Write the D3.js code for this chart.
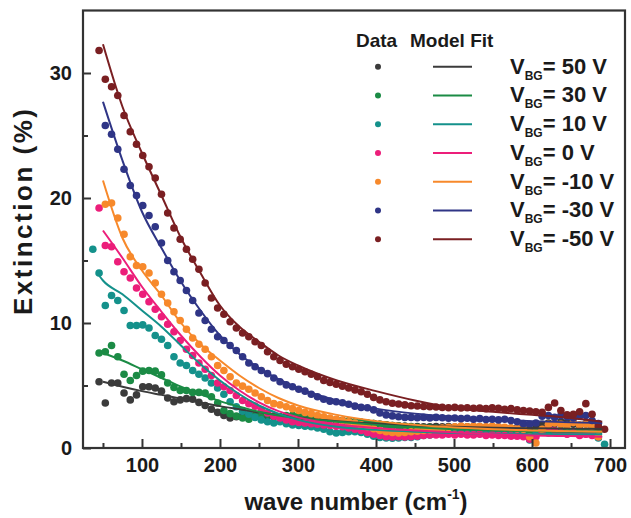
<!DOCTYPE html>
<html>
<head>
<meta charset="utf-8">
<script src="https://cdn.jsdelivr.net/npm/d3@7/dist/d3.min.js"></script>
<style>
  html, body { margin: 0; padding: 0; background: #fff; }
  svg { display: block; }
  text { font-family: "Liberation Sans", Arial, Helvetica, sans-serif; font-weight: bold; fill: #1a1a1a; }
</style>
</head>
<body>
<svg id="chart" width="631" height="518"></svg>
<script>
// ---------------- DATA ----------------
const voltages = [50, 30, 10, 0, -10, -30, -50];
const seriesColors = ["#3b3b3b", "#1b8b45", "#14918b", "#ec1e7a", "#f7892b", "#2f3586", "#7a1f22"];

const wavenumbers = [
  37, 45, 53, 61, 69, 77, 85, 93, 101, 109,
  117, 125, 133, 141, 149, 157, 165, 173, 181, 189,
  197, 205, 213, 221, 229, 237, 245, 253, 261, 269,
  277, 285, 293, 301, 309, 317, 325, 333, 341, 349,
  357, 365, 373, 381, 389, 397, 405, 413, 421, 429,
  437, 445, 453, 461, 469, 477, 485, 493, 501, 509,
  517, 525, 533, 541, 549, 557, 565, 573, 581, 589,
  597, 605, 613, 621, 629, 637, 645, 653, 661, 669,
  677, 685, 693
];

const ext50 = [
  null, 5.3, 3.6, 5.2, 5.2, 4.4, 3.85, 4.25, 4.9, 4.9,
  4.8, 4.55, 4.0, 3.7, 3.85, 3.95, 3.9, 3.65, 3.4, 3.1,
  2.85, 2.6, 2.4, 2.5, 2.6, 2.65, 2.62, 2.6, 2.55, 2.5,
  2.5, 2.45, 2.5, 2.45, 2.4, 2.4, 2.35, 2.4, 2.3, 2.25,
  2.2, 2.15, 2.1, 2.05, 2.0, 1.95, 1.9, 1.85, 1.8, 1.78,
  1.75, 1.72, 1.72, 1.7, 1.7, 1.72, 1.7, 1.72, 1.68, 1.7,
  1.7, 1.68, 1.7, 1.68, 1.65, 1.65, 1.62, 1.6, 1.6, 1.55,
  1.45, 1.6, 1.9, 2.0, 1.95, 2.1, 2.05, 1.9, 1.8, 1.95,
  1.75, 1.5, null
];
const ext30 = [
  null, 7.6, 7.7, 8.2, 7.3, 5.9, 5.4, 5.8, 6.15, 6.2,
  6.15, 5.85, 5.2, 4.85, 4.6, 4.6, 4.45, 4.45, 4.4, 4.1,
  3.6, 3.0, 2.75, 2.55, 2.4, 2.3, 2.6, 2.75, 2.7, 2.55,
  2.5, 2.6, 2.62, 2.55, 2.5, 2.48, 2.4, 2.35, 2.3, 2.25,
  2.2, 2.15, 2.1, 2.05, 2.0, 1.95, 1.9, 1.85, 1.8, 1.75,
  1.72, 1.7, 1.65, 1.62, 1.6, 1.58, 1.55, 1.52, 1.5, 1.48,
  1.47, 1.45, 1.45, 1.42, 1.4, 1.4, 1.38, 1.35, 1.35, 1.3,
  1.2, 1.3, 1.35, 1.4, 1.35, 1.4, 1.35, 1.3, 1.35, 1.3,
  1.3, 1.25, null
];
const ext10 = [
  15.9, 14.0, 11.4, 12.2, 11.8, 11.0, 9.8, 9.8, 9.85, 9.6,
  9.0, 8.7, 8.2, 7.3, 6.8, 6.6, 6.2, 5.9, 5.6, 5.2,
  4.8, 4.3, 3.7, 3.3, 2.95, 2.7, 2.45, 2.25, 2.1, 2.0,
  2.1, 1.95, 1.85, 1.8, 1.75, 1.7, 1.6, 1.5, 1.3, 1.2,
  1.25, 1.3, 1.3, 1.25, 1.1, 0.95, 0.85, 0.8, 0.78, 0.8,
  0.85, 0.85, 0.9, 1.0, 1.05, 1.1, 1.15, 1.2, 1.15, 1.2,
  1.15, 1.2, 1.15, 1.2, 1.15, 1.2, 1.15, 1.1, 1.1, 1.0,
  0.65, 1.1, 1.3, 1.2, 1.25, 1.2, 1.15, 1.2, 1.1, 1.15,
  1.1, 0.8, 0.3
];
const ext0 = [
  null, 19.2, 16.2, 16.1, 14.9, 14.1, 13.6, 12.8, 12.3, 11.7,
  11.1, 10.5, 9.9, 9.3, 8.6, 7.9, 7.4, 6.8, 6.3, 5.8,
  5.2, 4.9, 4.6, 4.2, 3.8, 3.55, 3.35, 3.05, 2.8, 2.55,
  2.4, 2.25, 2.1, 2.05, 2.0, 1.95, 1.9, 1.85, 1.8, 1.75,
  1.7, 1.6, 1.5, 1.4, 1.25, 1.1, 1.0, 0.9, 0.88, 0.9,
  0.88, 0.9, 0.95, 1.0, 1.05, 1.05, 1.05, 1.1, 1.05, 1.1,
  1.05, 1.05, 1.1, 1.0, 1.05, 1.0, 1.0, 0.95, 0.95, 0.9,
  0.7, 0.9, 1.3, 1.6, 1.4, 1.2, 1.1, 1.2, 1.0, 1.1,
  1.0, 0.9, null
];
const extM10 = [
  null, null, 19.5, 19.6, 18.4, 17.1, 15.3, 14.6, 14.5, 14.0,
  13.2, 12.3, 11.6, 10.9, 10.2, 9.5, 8.8, 8.3, 7.9, 7.3,
  6.6, 6.2, 5.7, 5.2, 4.95, 4.7, 4.4, 4.1, 3.8, 3.55,
  3.45, 3.3, 3.15, 3.0, 2.85, 2.75, 2.6, 2.5, 2.4, 2.3,
  2.2, 2.1, 2.0, 1.85, 1.7, 1.55, 1.4, 1.3, 1.25, 1.2,
  1.25, 1.3, 1.35, 1.4, 1.45, 1.5, 1.6, 1.65, 1.7, 1.75,
  1.7, 1.75, 1.72, 1.7, 1.75, 1.7, 1.65, 1.6, 1.55, 1.5,
  0.9, 0.4, 1.5, 1.9, 2.0, 1.9, 1.8, 2.05, 1.85, 1.9,
  1.75, 0.9, null
];
const extM30 = [
  null, null, 25.8, 25.1, 23.9, 22.3, 21.0, 20.2, 19.4, 18.6,
  17.7, 16.4, 15.0, 14.1, 13.4, 12.6, 11.8, 10.8, 10.2, 9.5,
  8.9, 8.6, 8.2, 7.8, 7.3, 6.8, 6.5, 6.2, 5.95, 5.6,
  5.3, 5.05, 4.9, 4.7, 4.55, 4.3, 4.1, 3.9, 3.75, 3.7,
  3.62, 3.5, 3.35, 3.25, 3.22, 3.05, 2.8, 2.65, 2.57, 2.5,
  2.45, 2.45, 2.42, 2.45, 2.4, 2.45, 2.42, 2.38, 2.4, 2.35,
  2.38, 2.3, 2.35, 2.28, 2.3, 2.25, 2.3, 2.2, 2.1, 1.95,
  1.9, 2.0, 2.55, 2.6, 2.45, 2.6, 2.5, 2.4, 2.55, 2.6,
  2.2, 1.95, null
];
const extM50 = [
  null, 31.8, 29.5, 28.9, 28.2, 26.6, 25.3, 24.3, 23.4, 22.5,
  21.6, 20.3, 18.8, 17.6, 16.7, 15.9, 15.1, 14.3, 13.2, 12.0,
  11.2, 10.7, 10.1, 9.6, 9.2, 8.9, 8.5, 8.2, 7.7, 7.3,
  7.0, 6.7, 6.5, 6.3, 6.1, 5.9, 5.7, 5.4, 5.25, 5.1,
  4.95, 4.8, 4.65, 4.5, 4.3, 4.05, 3.85, 3.7, 3.58, 3.52,
  3.45, 3.38, 3.36, 3.32, 3.3, 3.28, 3.25, 3.22, 3.25, 3.2,
  3.22, 3.18, 3.2, 3.15, 3.22, 3.18, 3.1, 3.15, 3.05, 3.0,
  2.95, 2.9, 2.85, 3.25, 3.6, 3.0, 2.65, 2.7, 2.9, 3.55,
  2.7, 1.7, 1.5
];

// model fit curves
const fitWavenumbers = [45, 50, 75, 100, 125, 150, 175, 200, 225, 250, 275, 300, 350, 400, 450, 500, 550, 600, 650, 690];
const fit50  = [null, 5.3, 4.9, 4.55, 4.25, 3.95, 3.65, 3.35, 3.1, 2.85, 2.65, 2.45, 2.15, 1.95, 1.8, 1.7, 1.62, 1.58, 1.55, 1.52];
const fit30  = [null, 7.6, 7.0, 6.3, 5.6, 4.9, 4.3, 3.75, 3.3, 2.9, 2.6, 2.4, 2.1, 1.85, 1.65, 1.5, 1.4, 1.35, 1.3, 1.3];
const fit10  = [13.8, 13.4, 12.3, 11.0, 9.7, 8.2, 6.7, 5.4, 4.3, 3.4, 2.75, 2.25, 1.7, 1.45, 1.3, 1.2, 1.15, 1.1, 1.1, 1.1];
const fit0   = [null, 17.4, 15.2, 12.9, 10.9, 9.0, 7.3, 5.8, 4.6, 3.65, 2.95, 2.45, 1.9, 1.6, 1.4, 1.25, 1.1, 1.0, 0.95, 0.9];
const fitM10 = [null, 21.4, 16.8, 14.2, 12.2, 10.0, 8.3, 7.0, 5.8, 4.8, 4.0, 3.4, 2.65, 2.15, 1.85, 1.65, 1.5, 1.4, 1.35, 1.3];
const fitM30 = [null, 27.7, 23.0, 18.9, 16.0, 13.3, 11.0, 9.0, 7.5, 6.4, 5.5, 4.8, 3.8, 3.15, 2.75, 2.5, 2.3, 2.15, 2.05, 2.0];
const fitM50 = [null, 32.3, 27.3, 23.6, 20.2, 16.8, 14.0, 11.4, 9.7, 8.5, 7.4, 6.6, 5.4, 4.55, 3.8, 3.2, 2.9, 2.65, 2.4, 2.1];

const xMajorTicks = [100, 200, 300, 400, 500, 600, 700];
const xMinorTicks = [50, 150, 250, 350, 450, 550, 650];
const yMajorTicks = [0, 10, 20, 30];
const yMinorTicks = [5, 15, 25];

// ---------------- CHART ----------------
const dataSeries = [ext50, ext30, ext10, ext0, extM10, extM30, extM50];
const fitSeries = [fit50, fit30, fit10, fit0, fitM10, fitM30, fitM50];

const svg = d3.select("#chart");
const plotLeft = 83, plotRight = 625, plotTop = 10.5, plotBottom = 448;

const x = d3.scaleLinear().domain([24.4, 719.2]).range([plotLeft, plotRight]);
const y = d3.scaleLinear().domain([0, 35]).range([plotBottom, plotTop]);

svg.append("rect").attr("width", 631).attr("height", 518).attr("fill", "#fff");

// data points
dataSeries.forEach((vals, i) => {
  const pts = wavenumbers.map((w, j) => ({ w, v: vals[j] })).filter(d => d.v !== null);
  svg.append("g").selectAll("circle").data(pts).join("circle")
    .attr("cx", d => x(d.w)).attr("cy", d => y(d.v)).attr("r", 3.8)
    .attr("fill", seriesColors[i]);
});

// fit lines
const line = d3.line().defined(d => d.v !== null)
  .x(d => x(d.w)).y(d => y(d.v)).curve(d3.curveMonotoneX);
fitSeries.forEach((vals, i) => {
  const pts = fitWavenumbers.map((w, j) => ({ w, v: vals[j] }));
  svg.append("path").attr("d", line(pts))
    .attr("fill", "none").attr("stroke", seriesColors[i]).attr("stroke-width", 2);
});

// axes
const axisColor = "#333";
const xAxis = svg.append("g").attr("transform", `translate(0,${plotBottom})`)
  .call(d3.axisBottom(x).tickValues(xMajorTicks).tickSize(-9).tickPadding(10).tickFormat(d3.format("d")));
const xMinor = svg.append("g").attr("transform", `translate(0,${plotBottom})`)
  .call(d3.axisBottom(x).tickValues(xMinorTicks).tickSize(-5).tickFormat(""));
const yAxis = svg.append("g").attr("transform", `translate(${plotLeft},0)`)
  .call(d3.axisLeft(y).tickValues(yMajorTicks).tickSize(-8).tickPadding(11).tickFormat(d3.format("d")));
const yMinor = svg.append("g").attr("transform", `translate(${plotLeft},0)`)
  .call(d3.axisLeft(y).tickValues(yMinorTicks).tickSize(-5).tickFormat(""));

[xAxis, xMinor, yAxis, yMinor].forEach(g => {
  g.select(".domain").remove();
  g.selectAll(".tick line").attr("stroke", axisColor).attr("stroke-width", 2);
  g.selectAll(".tick text").attr("font-size", 20).attr("fill", "#1a1a1a")
    .attr("font-family", '"Liberation Sans", Arial, sans-serif').attr("font-weight", "bold");
});

// frame
svg.append("rect").attr("x", plotLeft).attr("y", plotTop)
  .attr("width", plotRight - plotLeft).attr("height", plotBottom - plotTop)
  .attr("fill", "none").attr("stroke", axisColor).attr("stroke-width", 2.2);

// axis titles
svg.append("text")
  .attr("transform", "translate(32,212) rotate(-90)")
  .attr("text-anchor", "middle").attr("font-size", 26)
  .attr("textLength", 206).attr("lengthAdjust", "spacing")
  .text("Extinction (%)");

const xt = svg.append("text").attr("x", 356).attr("y", 510)
  .attr("text-anchor", "middle").attr("font-size", 24);
xt.append("tspan").text("wave number (cm");
xt.append("tspan").attr("font-size", 14).attr("dy", -11).text("-1");
xt.append("tspan").attr("dy", 11).text(")");

// legend
svg.append("text").attr("x", 356).attr("y", 47).attr("font-size", 19).text("Data");
svg.append("text").attr("x", 410).attr("y", 47).attr("font-size", 19).text("Model Fit");

voltages.forEach((v, i) => {
  const cy = 66.7 + i * 28.75;
  svg.append("circle").attr("cx", 378).attr("cy", cy).attr("r", 3).attr("fill", seriesColors[i]);
  svg.append("line").attr("x1", 433).attr("x2", 472).attr("y1", cy).attr("y2", cy)
    .attr("stroke", seriesColors[i]).attr("stroke-width", 2);
  const t = svg.append("text").attr("x", 510).attr("y", cy + 7).attr("font-size", 22);
  t.append("tspan").text("V");
  t.append("tspan").attr("font-size", 12).attr("dy", 6).text("BG");
  t.append("tspan").attr("dy", -6).text("= " + v + " V");
});
</script>
</body>
</html>
